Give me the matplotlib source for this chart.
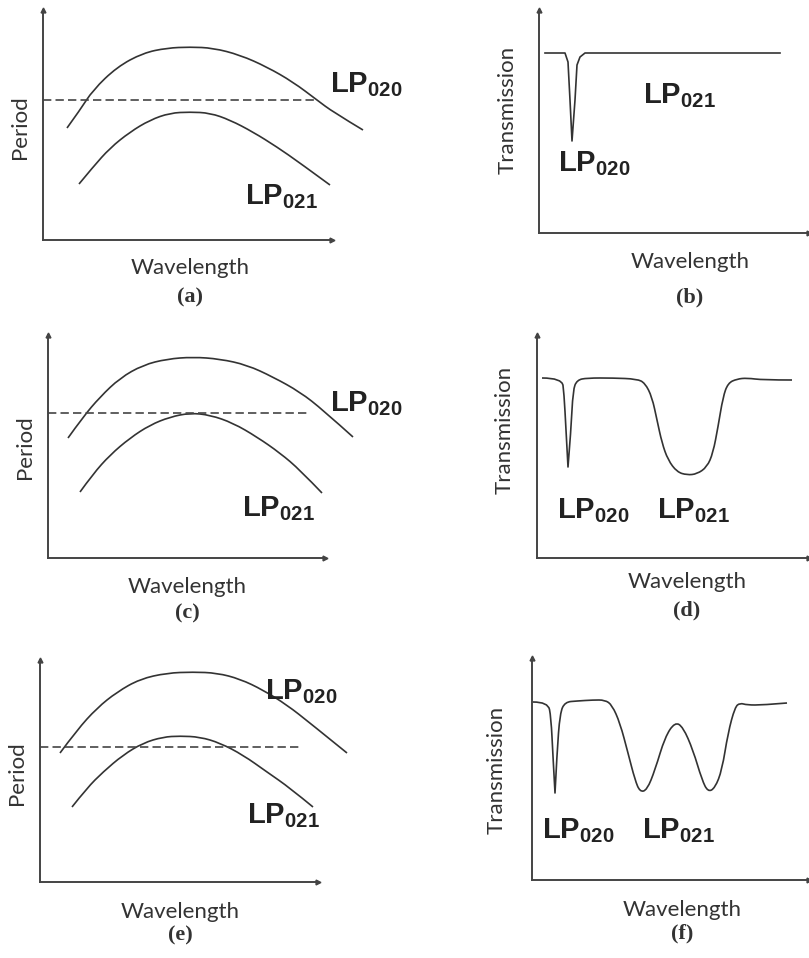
import matplotlib
matplotlib.use('Agg')
import matplotlib.pyplot as plt
from matplotlib.path import Path
from matplotlib.patches import PathPatch

matplotlib.rcParams['mathtext.fontset'] = 'custom'
matplotlib.rcParams['mathtext.rm'] = 'Liberation Sans'
matplotlib.rcParams['mathtext.bf'] = 'Liberation Sans:bold'

W, H = 809, 958
INK = '#333333'

# axis boxes: left, top, right, bottom (pixels)
box_a = (43, 10, 332, 240)
box_b = (539, 10, 809, 233)
box_c = (48, 335, 325, 558)
box_d = (537, 335, 809, 558)
box_e = (40, 660, 318, 882)
box_f = (532, 658, 809, 880)

# period vs wavelength curves (a), (c), (e)
a_up_x = [67, 80, 93, 117, 143, 167, 190, 213, 240, 267, 293, 317, 333, 363]
a_up_y = [128, 110, 90, 67, 53, 48, 47, 48, 55, 67, 82, 100, 112, 130]
a_lo_x = [79, 93, 110, 130, 150, 170, 190, 210, 230, 253, 277, 300, 330]
a_lo_y = [184, 167, 148, 132, 120, 113, 112, 113, 120, 132, 147, 163, 185]
a_dash = (99.5, 315)

c_up_x = [68, 83, 100, 120, 143, 167, 193, 220, 247, 273, 300, 323, 353]
c_up_y = [438, 417, 397, 378, 365, 359, 357, 359, 365, 377, 392, 410, 437]
c_lo_x = [80, 93, 110, 130, 150, 170, 190, 210, 233, 257, 280, 300, 322]
c_lo_y = [492, 474, 455, 438, 425, 417, 413, 415, 423, 437, 453, 470, 493]
c_dash = (412.7, 307)

e_up_x = [60, 77, 97, 117, 140, 167, 193, 217, 240, 263, 287, 310, 347]
e_up_y = [753, 730, 708, 692, 679, 673, 672, 673, 679, 690, 705, 723, 753]
e_lo_x = [72, 87, 103, 123, 143, 163, 180, 200, 220, 243, 267, 290, 313]
e_lo_y = [807, 788, 772, 755, 743, 737, 736, 737, 743, 755, 772, 788, 807]
e_dash = (746.7, 300)

# transmission spectra (b), (d), (f)
b_x = [545, 565, 568, 570, 572, 575, 577, 580, 585, 780]
b_y = [53, 53, 62, 100, 141, 100, 65, 57, 53, 53]

d_x = [542, 562, 564, 566, 568, 571, 573, 577, 587, 613, 637, 645, 652, 657,
       662, 668, 677, 687, 697, 707, 713, 718, 723, 728, 737, 747, 763, 792]
d_y = [378, 378, 393, 430, 467, 430, 390, 380, 378, 378, 379, 383, 397, 420,
       443, 460, 472, 475, 474, 467, 453, 427, 397, 383, 379, 378, 380, 380]
d_sharp = [4]

f_x = [533, 548, 551, 553, 555, 557, 560, 565, 577, 593, 605, 612, 620, 628,
       635, 640, 647, 655, 665, 675, 683, 693, 702, 708, 715, 722, 728, 735,
       740, 747, 763, 787]
f_y = [702, 702, 717, 757, 793, 753, 713, 702, 701, 700, 700, 705, 723, 753,
       780, 792, 790, 770, 737, 722, 727, 750, 780, 792, 788, 770, 733, 707,
       703, 705, 705, 703]
f_sharp = [4]

LP020 = r'$\mathbf{LP}_{\mathbf{020}}$'
LP021 = r'$\mathbf{LP}_{\mathbf{021}}$'

fig = plt.figure(figsize=(W / 100, H / 100), dpi=100)


def panel(box):
    l, t, r, b = box
    ax = fig.add_axes([l / W, 1 - b / H, (r - l) / W, (b - t) / H])
    ax.set_xlim(l, r)
    ax.set_ylim(b, t)
    for s in ['top', 'right']:
        ax.spines[s].set_visible(False)
    for s in ['left', 'bottom']:
        ax.spines[s].set_color('#444444')
        ax.spines[s].set_linewidth(1.4)
    ax.set_xticks([])
    ax.set_yticks([])
    ax.patch.set_alpha(0)
    ax.plot([r], [b], marker='>', ms=3.5, color='#444444', clip_on=False)
    ax.plot([l], [t], marker='^', ms=3.5, color='#444444', clip_on=False)
    return ax


def smooth(ax, xs, ys, sharp=()):
    # quadratic bezier through the read points, split at sharp corners
    cuts = [0] + list(sharp) + [len(xs) - 1]
    verts, codes = [], []
    for i0, i1 in zip(cuts[:-1], cuts[1:]):
        pts = list(zip(xs[i0:i1 + 1], ys[i0:i1 + 1]))
        if not verts:
            verts.append(pts[0])
            codes.append(Path.MOVETO)
        for k in range(1, len(pts) - 1):
            nxt = pts[k + 1] if k + 1 == len(pts) - 1 else (
                ((pts[k][0] + pts[k + 1][0]) / 2, (pts[k][1] + pts[k + 1][1]) / 2))
            verts += [pts[k], nxt]
            codes += [Path.CURVE3, Path.CURVE3]
        if len(pts) == 2:
            verts.append(pts[1])
            codes.append(Path.LINETO)
    ax.add_patch(PathPatch(Path(verts, codes), fill=False, edgecolor=INK,
                           lw=1.2, clip_on=False, joinstyle='round'))


def txt(ax, x, y, s, **kw):
    ax.text(x, y, s, clip_on=False, **kw)


lab = dict(family='Lato', fontsize=16, color=INK, ha='center', va='center')
tag = dict(family='Liberation Serif', fontweight='bold', fontsize=16,
           color=INK, ha='center', va='center')
lp = dict(fontsize=21, color='#222222', ha='left', va='baseline')

for box, up, lo, dash, lbl, lp0, lp1, ylab, xlab, tg in [
        (box_a, (a_up_x, a_up_y), (a_lo_x, a_lo_y), a_dash, '(a)',
         (330, 92), (245, 204), (20, 127), (190, 268), (190, 297)),
        (box_c, (c_up_x, c_up_y), (c_lo_x, c_lo_y), c_dash, '(c)',
         (330, 411), (242, 516), (25, 447), (187, 587), (187, 613)),
        (box_e, (e_up_x, e_up_y), (e_lo_x, e_lo_y), e_dash, '(e)',
         (265, 699), (247, 823), (17, 773), (180, 912), (180, 935))]:
    ax = panel(box)
    smooth(ax, *up)
    smooth(ax, *lo)
    ax.plot([box[0], dash[1]], [dash[0], dash[0]], color='#444444',
            lw=1.2, ls=(0, (5, 2.5)), clip_on=False)
    txt(ax, *lp0, LP020, **lp)
    txt(ax, *lp1, LP021, **lp)
    txt(ax, *ylab, 'Period', rotation=90, **lab)
    txt(ax, *xlab, 'Wavelength', **lab)
    txt(ax, *tg, lbl, **tag)

for box, xs, ys, sharp, lbl, lp0, lp1, ylab, xlab, tg in [
        (box_b, b_x, b_y, None, '(b)', (558, 171), (643, 103), (508, 110),
         (690, 262), (690, 297)),
        (box_d, d_x, d_y, d_sharp, '(d)', (557, 518), (657, 518), (505, 430),
         (687, 582), (687, 610)),
        (box_f, f_x, f_y, f_sharp, '(f)', (542, 838), (642, 838), (497, 770),
         (682, 910), (682, 933))]:
    ax = panel(box)
    if sharp is None:
        ax.plot(xs, ys, color=INK, lw=1.2, clip_on=False,
                solid_joinstyle='round')
    else:
        smooth(ax, xs, ys, sharp)
    txt(ax, *lp0, LP020, **lp)
    txt(ax, *lp1, LP021, **lp)
    txt(ax, *ylab, 'Transmission', rotation=90, **lab)
    txt(ax, *xlab, 'Wavelength', **lab)
    txt(ax, *tg, lbl, **tag)

fig.savefig('out.png', dpi=100, facecolor='white')
